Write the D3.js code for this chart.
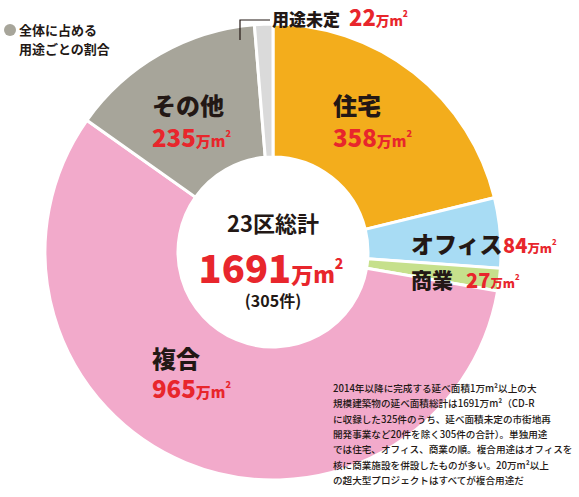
<!DOCTYPE html><html><head><meta charset="utf-8"><script src="https://d3js.org/d3.v7.min.js"></script>
<style>body{margin:0;background:#fff}text{font-family:"Noto Sans CJK JP",sans-serif}</style></head><body><svg id="c" width="579" height="497"></svg>
<script>
const categories=["住宅","オフィス","商業","複合","その他","用途未定"];
const values=[358,84,27,965,235,22];
const colors=["#f3ad1c","#a8dcf4","#c6e08c","#f2aacb","#a7a59a","#dadada"];
const svg=d3.select("#c");
const cx=273,cy=252,R=228,r=95;
const pie=d3.pie().sort(null).value(d=>d)(values);
const arc=d3.arc().innerRadius(r).outerRadius(R);
const g=svg.append("g").attr("transform",`translate(${cx},${cy})`);
g.selectAll("path").data(pie).join("path").attr("d",arc).attr("fill",(d,i)=>colors[i]).attr("stroke","#fff").attr("stroke-width",3);
const red="#e8262c";
function lab(x,y,name,ns){
  svg.append("text").attr("x",x).attr("y",y).attr("font-weight","900").attr("font-size",ns).attr("fill","#231815").text(name);
}
function valT(x,y,val,vs){
  const t=svg.append("text").attr("x",x).attr("y",y).attr("font-weight","900").attr("fill",red);
  t.append("tspan").attr("font-size",vs).text(val);
  t.append("tspan").attr("font-size",vs*0.62).text("万m");
  t.append("tspan").attr("font-size",vs*0.38).attr("dy",-vs*0.4).text("2");
}
lab(333,115,"住宅",24);valT(333,147,358,24);
lab(152,115,"その他",24);valT(152,147,235,24);
lab(411,253,"オフィス",23);valT(503,253,84,20);
lab(411,288,"商業",21);valT(466,288,27,20);
lab(152,368,"複合",24);valT(152,398,965,24);
svg.append("path").attr("d","M240,40V20H270").attr("fill","none").attr("stroke","#231815").attr("stroke-width",1.2);
lab(272,26,"用途未定",17);
valT(349,26,22,22);
svg.append("text").attr("x",cx).attr("y",232).attr("text-anchor","middle").attr("font-weight","bold").attr("font-size",22).attr("fill","#231815").text("23区総計");
{const t=svg.append("text").attr("x",cx-2).attr("y",283).attr("text-anchor","middle").attr("font-weight","900").attr("fill",red);
t.append("tspan").attr("font-size",38).text("1691");t.append("tspan").attr("font-size",22).text("万m");t.append("tspan").attr("font-size",14).attr("dy",-14).text("2");}
svg.append("text").attr("x",cx).attr("y",307).attr("text-anchor","middle").attr("font-weight","bold").attr("font-size",16).attr("fill","#231815").text("(305件)");
svg.append("circle").attr("cx",10).attr("cy",30).attr("r",6).attr("fill","#a7a59a");
svg.append("text").attr("x",19).attr("y",35).attr("font-size",13).attr("font-weight","bold").attr("fill","#231815").text("全体に占める");
svg.append("text").attr("x",19).attr("y",54).attr("font-size",13).attr("font-weight","bold").attr("fill","#231815").text("用途ごとの割合");
const note=["2014年以降に完成する延べ面積1万m²以上の大","規模建築物の延べ面積総計は1691万m²（CD-R","に収録した325件のうち、延べ面積未定の市街地再","開発事業など20件を除く305件の合計）。単独用途","では住宅、オフィス、商業の順。複合用途はオフィスを","核に商業施設を併設したものが多い。20万m²以上","の超大型プロジェクトはすべてが複合用途だ"];
svg.append("g").selectAll("text").data(note).join("text").attr("x",333).attr("y",(d,i)=>392+i*15.3).attr("font-size",9.6).attr("font-weight","500").attr("fill","#231815").text(d=>d);
</script></body></html>
